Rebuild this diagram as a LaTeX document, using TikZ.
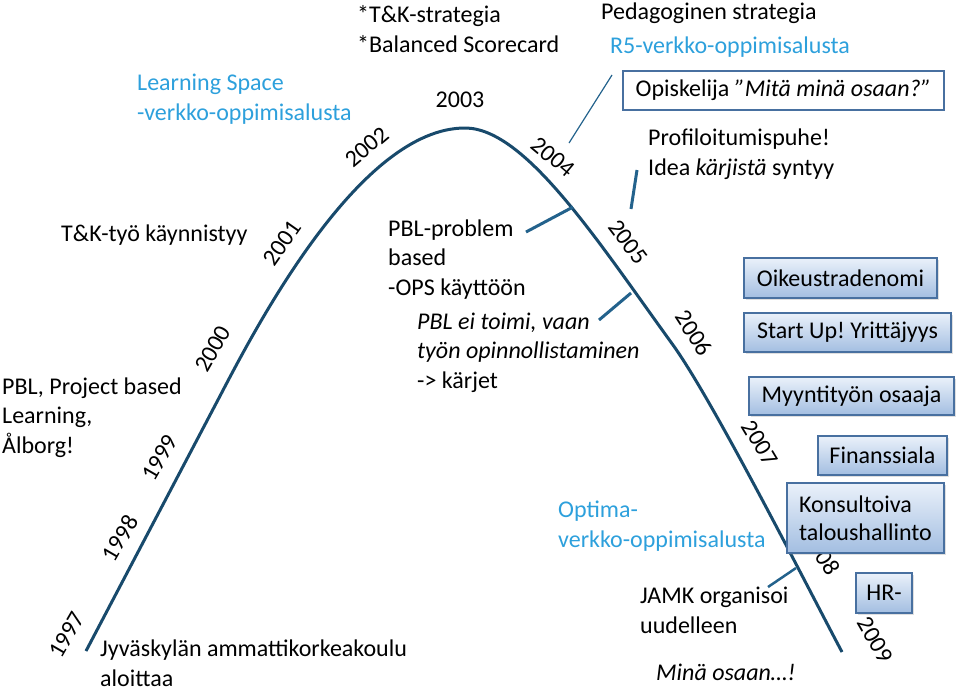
\documentclass[tikz,border=0pt]{standalone}
\usepackage{fontspec}
\setmainfont{Carlito}
\usetikzlibrary{shadows}
\definecolor{ridgeblue}{RGB}{24,74,108}
\definecolor{linkblue}{RGB}{35,98,140}
\definecolor{sky}{RGB}{45,160,220}
\definecolor{boxtop}{RGB}{234,241,250}
\definecolor{boxbot}{RGB}{163,190,225}
\definecolor{boxline}{RGB}{72,112,160}
\frenchspacing
\tikzset{
  txt/.style={inner sep=0pt,anchor=base west,align=left,
    font=\fontsize{24}{29.5}\selectfont},
  web/.style={txt,text=sky},
  yr/.style={inner sep=0pt,font=\fontsize{24}{28}\selectfont},
  field/.style={draw=boxline,line width=1.5pt,top color=boxtop,bottom color=boxbot,
    inner sep=0pt,font=\fontsize{24}{28}\selectfont,
    drop shadow={opacity=0.25,shadow xshift=2pt,shadow yshift=-2pt}},
  quotebox/.style={draw=boxline,line width=1.5pt,fill=white,inner sep=0pt,
    font=\fontsize{24}{28}\selectfont},
  ridge/.style={ridgeblue,line width=3pt},
  tie/.style={linkblue,line width=3pt},
}

\begin{document}
\begin{tikzpicture}[x=1pt,y=-1pt]
  \useasboundingbox (0,0) rectangle (960,689);
  \coordinate (start97) at (86,651);
  \coordinate (bend00) at (220,396);
  \coordinate (top03) at (465,128);
  \coordinate (bend06) at (673,345);
  \coordinate (end09) at (842,652);
  \draw[ridge] (start97) -- (bend00) .. controls (257,325) and (360,128) .. (top03)
    .. controls (525,128) and (597,240) .. (bend06)
    .. controls (714,402) and (809,590) .. (end09);
  \node[yr,rotate=60] (y97) at (67,635) {1997};
  \node[yr,rotate=60] (y98) at (120,538) {1998};
  \node[yr,rotate=60] (y99) at (160,458) {1999};
  \node[yr,rotate=60] (y00) at (213,349) {2000};
  \node[yr,rotate=55] (y01) at (282,243) {2001};
  \node[yr,rotate=40] (y02) at (367,147) {2002};
  \node[yr] (y03) at (460,100) {2003};
  \node[yr,rotate=-40] (y04) at (553,157) {2004};
  \node[yr,rotate=-53] (y05) at (628,242) {2005};
  \node[yr,rotate=-57] (y06) at (694,333) {2006};
  \node[yr,rotate=-59] (y07) at (760,443) {2007};
  \node[yr,rotate=-60] (y08) at (822,552) {2008};
  \node[yr,rotate=-60] (y09) at (875,640) {2009};

  \node[txt] (rd) at (357,52) {*T\&K-strategia\\*Balanced Scorecard};
  \node[web] (ls) at (137,120) {Learning Space\\-verkko-oppimisalusta};
  \node[txt] (ped) at (601,19) {Pedagoginen strategia};
  \node[web] (r5) at (610,53) {R5-verkko-oppimisalusta};
  \node[quotebox,minimum width=321pt,minimum height=39pt] (stud) at (783.5,90.5)
    {Opiskelija \textit{”Mitä minä osaan?”}};
  \node[txt] (prof) at (648,175) {Profiloitumispuhe!\\Idea \textit{kärjistä} syntyy};
  \node[txt] (tk) at (61,241) {T\&K-työ käynnistyy};
  \node[txt] (pbl) at (388,295) {PBL-problem\\based\\-OPS käyttöön};
  \node[txt] (opin) at (417,388)
    {\textit{PBL ei toimi, vaan}\\\textit{työn opinnollistaminen}\\-> kärjet};
  \node[txt] (aal) at (2,453) {PBL, Project based\\Learning,\\Ålborg!};
  \node[txt] (jamk) at (100,686) {Jyväskylän ammattikorkeakoulu\\aloittaa};
  \node[web] (opt) at (558,547) {Optima-\\verkko-oppimisalusta};
  \node[txt] (reorg) at (640,633) {JAMK organisoi\\uudelleen};
  \node[txt] (osaan) at (656,680) {\textit{Minä osaan…!}};

  \node[field,minimum width=193pt,minimum height=40pt] (law) at (840.5,278) {Oikeustradenomi};
  \node[field,minimum width=207pt,minimum height=39pt] (start) at (847.5,332.5) {Start Up! Yrittäjyys};
  \node[field,minimum width=205pt,minimum height=38pt] (sales) at (851.5,396) {Myyntityön osaaja};
  \node[field,minimum width=129pt,minimum height=39pt] (fin) at (882.5,455.5) {Finanssiala};
  \node[field,minimum width=157pt,minimum height=70pt,align=left] (cons) at (865.5,518)
    {Konsultoiva\\taloushallinto};
  \node[field,minimum width=56pt,minimum height=40pt] (hr) at (884,593) {HR-};

  \coordinate (r5end) at (612,75);
  \coordinate (r5tip) at (569,143);
  \coordinate (profend) at (637,170);
  \coordinate (proftip) at (631,209);
  \coordinate (pblend) at (526,232);
  \coordinate (pbltip) at (573,207);
  \coordinate (opinend) at (599,320);
  \coordinate (opintip) at (631,293);
  \coordinate (reorgend) at (768,587);
  \coordinate (reorgtip) at (796,568);
  \draw[tie,line width=1.2pt] (r5end) -- (r5tip);
  \draw[tie] (profend) -- (proftip);
  \draw[tie] (pblend) -- (pbltip);
  \draw[tie] (opinend) -- (opintip);
  \draw[tie,line width=2.5pt] (reorgend) -- (reorgtip);
\end{tikzpicture}
\end{document}
